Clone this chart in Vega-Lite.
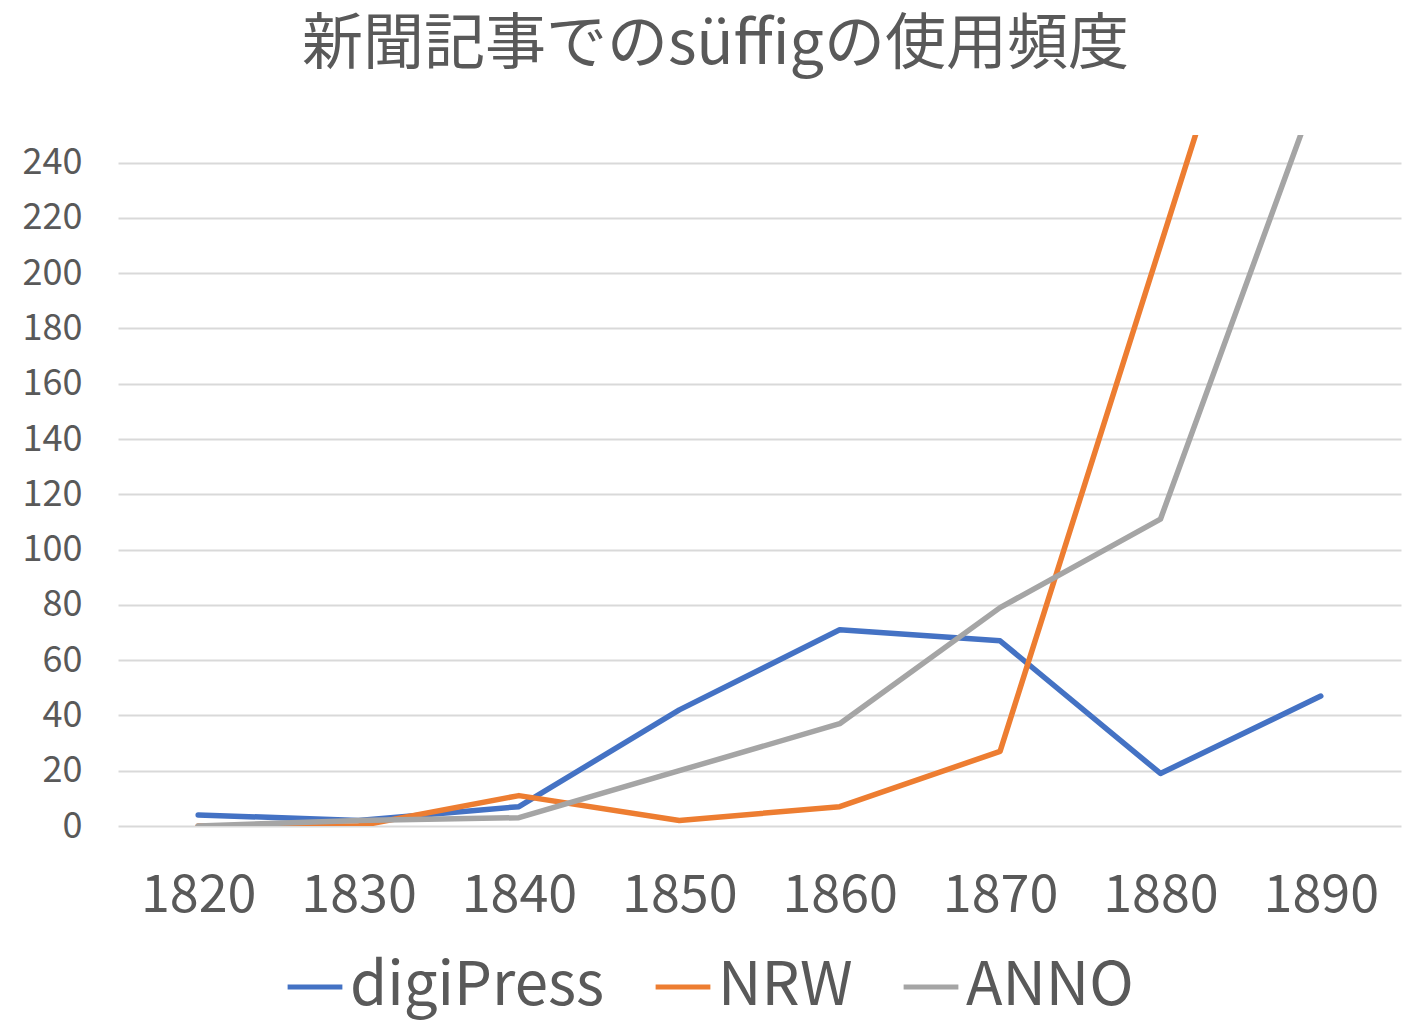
{
  "$schema": "https://vega.github.io/schema/vega-lite/v6.json",
  "autosize": "none",
  "width": 1283,
  "height": 691,
  "padding": {"left": 118, "top": 135, "right": 16, "bottom": 197},
  "background": "white",
  "config": {
    "view": {"stroke": null},
    "font": "Noto Sans CJK JP"
  },
  "title": {
    "text": "新聞記事でのsüffigの使用頻度",
    "fontSize": 61,
    "fontWeight": "normal",
    "color": "#595959",
    "anchor": "middle",
    "dx": -44,
    "offset": 58
  },
  "data": {
    "values": [
      {"year": "1820", "series": "digiPress", "value": 4},
      {"year": "1830", "series": "digiPress", "value": 2},
      {"year": "1840", "series": "digiPress", "value": 7},
      {"year": "1850", "series": "digiPress", "value": 42},
      {"year": "1860", "series": "digiPress", "value": 71},
      {"year": "1870", "series": "digiPress", "value": 67},
      {"year": "1880", "series": "digiPress", "value": 19},
      {"year": "1890", "series": "digiPress", "value": 47},
      {"year": "1820", "series": "NRW", "value": 0},
      {"year": "1830", "series": "NRW", "value": 0},
      {"year": "1840", "series": "NRW", "value": 11},
      {"year": "1850", "series": "NRW", "value": 2},
      {"year": "1860", "series": "NRW", "value": 7},
      {"year": "1870", "series": "NRW", "value": 27},
      {"year": "1880", "series": "NRW", "value": 210},
      {"year": "1890", "series": "NRW", "value": 393},
      {"year": "1820", "series": "ANNO", "value": 0},
      {"year": "1830", "series": "ANNO", "value": 2},
      {"year": "1840", "series": "ANNO", "value": 3},
      {"year": "1850", "series": "ANNO", "value": 20},
      {"year": "1860", "series": "ANNO", "value": 37},
      {"year": "1870", "series": "ANNO", "value": 79},
      {"year": "1880", "series": "ANNO", "value": 111},
      {"year": "1890", "series": "ANNO", "value": 270}
    ]
  },
  "mark": {"type": "line", "strokeWidth": 5.5, "clip": true, "strokeCap": "round", "strokeJoin": "round"},
  "encoding": {
    "x": {
      "field": "year",
      "type": "ordinal",
      "scale": {"type": "point", "padding": 0.5},
      "axis": {
        "title": null,
        "labelAngle": 0,
        "labelFontSize": 52,
        "labelColor": "#595959",
        "labelPadding": 44,
        "ticks": false,
        "domain": false,
        "grid": false
      }
    },
    "y": {
      "field": "value",
      "type": "quantitative",
      "scale": {"domain": [0, 250], "nice": false},
      "axis": {
        "title": null,
        "values": [0, 20, 40, 60, 80, 100, 120, 140, 160, 180, 200, 220, 240],
        "labelFontSize": 36,
        "labelColor": "#595959",
        "labelPadding": 36,
        "ticks": false,
        "domain": false,
        "gridColor": "#D9D9D9",
        "gridWidth": 2
      }
    },
    "color": {
      "field": "series",
      "type": "nominal",
      "sort": ["digiPress", "NRW", "ANNO"],
      "scale": {"domain": ["digiPress", "NRW", "ANNO"], "range": ["#4472C4", "#ED7D31", "#A5A5A5"]},
      "legend": {
        "title": null,
        "orient": "none",
        "direction": "horizontal",
        "legendX": 167,
        "legendY": 822,
        "symbolType": "stroke",
        "symbolSize": 3000,
        "symbolStrokeWidth": 5,
        "labelFontSize": 60,
        "labelColor": "#595959",
        "labelOffset": 5,
        "columnPadding": 40,
        "labelLimit": 400
      }
    }
  }
}
